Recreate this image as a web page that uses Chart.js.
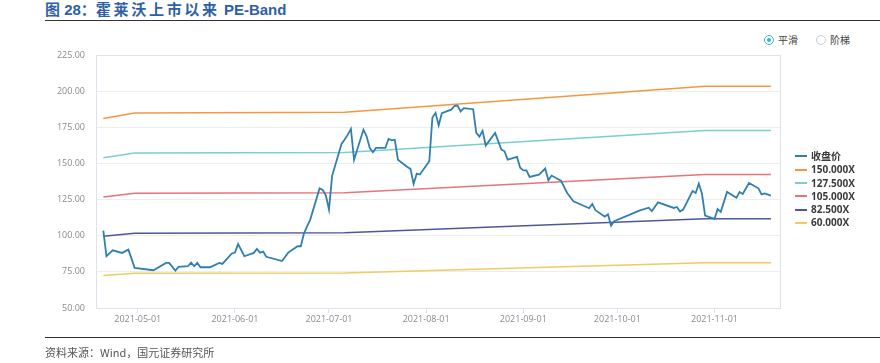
<!DOCTYPE html>
<html>
<head>
<meta charset="utf-8">
<script src="https://cdn.jsdelivr.net/npm/chart.js@4.4.0/dist/chart.umd.min.js"></script>
<style>
body { margin: 0; background: #fff; }
#wrap { position: relative; width: 880px; height: 363px; overflow: hidden; font-family: "Noto Sans CJK SC", sans-serif; }
#title { position: absolute; left: 45px; top: 1px; line-height: 18px; font-size: 15px; font-weight: bold; color: #2f5fa7; font-family: "Liberation Sans", "Noto Sans CJK SC", sans-serif; white-space: nowrap; }
#title .cn { letter-spacing: 2.7px; }
.rule { position: absolute; left: 45px; width: 835px; height: 1px; background: #333; }
#source { position: absolute; left: 45px; top: 344px; font-size: 11px; line-height: 16px; color: #555; white-space: nowrap; }
#mode { position: absolute; top: 32px; left: 764px; font-size: 10px; color: #444; line-height: 14px; white-space: nowrap; }
#mode span { display: inline-block; vertical-align: middle; }
.radio { width: 8px; height: 8px; border-radius: 50%; border: 1px solid #ccc; position: relative; margin-right: 4px; }
.radio.on { border-color: #3ab5c8; }
.radio.on::after { content: ""; position: absolute; left: 2px; top: 2px; width: 4px; height: 4px; border-radius: 50%; background: #3ab5c8; }
#legend { position: absolute; left: 795px; top: 150px; }
#legend div { height: 13.3px; line-height: 13.3px; font-size: 10px; font-weight: bold; color: #3a3a3a; white-space: nowrap; font-family: "Open Sans", "Noto Sans CJK SC", sans-serif; }
#legend i { display: inline-block; width: 12px; height: 2px; vertical-align: middle; margin-right: 4px; margin-top: -2px; }
canvas { position: absolute; left: 0; top: 0; }
</style>
</head>
<body>
<div id="wrap">
  <div id="title">图 28：<span class="cn">霍莱沃上市以来</span> PE-Band</div>
  <div class="rule" style="top:20px"></div>
  <div id="mode"><span class="radio on"></span><span>平滑</span><span style="width:18px"></span><span class="radio"></span><span>阶梯</span></div>
  <canvas id="peChart" width="880" height="363"></canvas>
  <div id="legend"></div>
  <div class="rule" style="top:337px"></div>
  <div id="source">资料来源：Wind，国元证券研究所</div>
</div>
<script>
// close price (trading days)
const closeDates = [
  "2021-04-20","2021-04-21","2021-04-23","2021-04-26","2021-04-28","2021-04-30",
  "2021-05-06","2021-05-10","2021-05-11","2021-05-13","2021-05-14","2021-05-17","2021-05-18","2021-05-19","2021-05-20","2021-05-21","2021-05-24","2021-05-27","2021-05-28","2021-05-31",
  "2021-06-01","2021-06-02","2021-06-04","2021-06-07","2021-06-08","2021-06-09","2021-06-10","2021-06-11","2021-06-16","2021-06-18","2021-06-21","2021-06-22","2021-06-23","2021-06-24","2021-06-25","2021-06-28","2021-06-29","2021-06-30",
  "2021-07-01","2021-07-02","2021-07-05","2021-07-06","2021-07-07","2021-07-08","2021-07-09","2021-07-12","2021-07-13","2021-07-14","2021-07-15","2021-07-16","2021-07-19","2021-07-20","2021-07-21","2021-07-22","2021-07-23","2021-07-26","2021-07-27","2021-07-28","2021-07-29","2021-07-30",
  "2021-08-02","2021-08-03","2021-08-04","2021-08-05","2021-08-06","2021-08-09","2021-08-10","2021-08-11","2021-08-12","2021-08-13","2021-08-16","2021-08-17","2021-08-18","2021-08-19","2021-08-20","2021-08-23","2021-08-25","2021-08-26","2021-08-27","2021-08-30","2021-08-31",
  "2021-09-01","2021-09-02","2021-09-03","2021-09-06","2021-09-08","2021-09-09","2021-09-10","2021-09-13","2021-09-15","2021-09-17","2021-09-22","2021-09-23","2021-09-24","2021-09-27","2021-09-28","2021-09-29","2021-09-30",
  "2021-10-08","2021-10-11","2021-10-12","2021-10-14","2021-10-19","2021-10-20","2021-10-21","2021-10-22","2021-10-25","2021-10-26","2021-10-27","2021-10-28","2021-10-29",
  "2021-11-01","2021-11-02","2021-11-03","2021-11-05","2021-11-08","2021-11-09","2021-11-10","2021-11-12","2021-11-15","2021-11-16","2021-11-17","2021-11-19"
];
const closePrice = [
  103.5,85.8,89.9,88.1,90.4,77.8,
  76.1,81.2,81.2,75.9,78.4,78.9,81.4,78.9,81.2,78.2,78.2,81.2,80.5,87.7,
  88.3,94.2,85.8,88.1,90.9,88.3,89.0,85.4,82.5,88.3,92.7,92.7,101.5,106.5,111.0,132.8,131.6,128.0,
  118.1,141.4,163.5,166.5,169.9,173.9,152.6,173.4,168.8,160.7,157.7,160.7,160.7,166.9,166.0,166.3,152.6,147.5,146.2,135.8,142.9,142.3,
  151.5,181.8,185.0,176.3,184.7,187.2,189.7,190.0,186.0,188.2,187.5,171.1,168.5,172.5,162.4,171.1,159.6,158.4,152.6,154.5,147.0,
  145.2,145.2,140.7,142.3,146.5,138.3,141.6,138.1,129.6,123.8,119.0,122.0,117.7,113.2,114.8,107.0,110.0,
  117.4,119.4,117.0,123.1,119.2,119.9,116.7,118.1,130.9,129.6,136.0,129.0,113.9,
  111.6,118.4,116.5,130.3,126.2,130.2,128.9,136.5,132.8,128.6,129.3,127.7
];

// PE bands (break points)
const bandDates = ["2021-04-20","2021-04-30","2021-07-06","2021-10-29","2021-11-19"];
const band150 = [181.0,184.9,185.4,203.3,203.3];
const band1275 = [153.9,157.2,157.6,172.8,172.8];
const band105 = [126.7,129.4,129.8,142.3,142.3];
const band825 = [99.6,101.7,102.0,111.8,111.8];
const band60 = [72.4,74.0,74.2,81.3,81.3];

const xTickLabels = ["2021-05-01","2021-06-01","2021-07-01","2021-08-01","2021-09-01","2021-10-01","2021-11-01"];
const yMin = 50, yMax = 225, yStep = 25;

const toPts = (dates, vals) => dates.map((d, i) => ({ x: Date.parse(d), y: vals[i] }));

function band(label, vals, color) {
  return {
    label: label,
    data: toPts(bandDates, vals),
    borderColor: color,
    backgroundColor: color,
    borderWidth: 1.5,
    pointRadius: 0,
    tension: 0,
  };
}

const data = {
  datasets: [
    {
      label: "收盘价",
      data: toPts(closeDates, closePrice),
      borderColor: "#2f7fb3",
      backgroundColor: "#2f7fb3",
      borderWidth: 1.8,
      pointRadius: 0,
      tension: 0,
    },
    band("150.000X", band150, "#f7973d"),
    band("127.500X", band1275, "#79cfcc"),
    band("105.000X", band105, "#e8737a"),
    band("82.500X", band825, "#4d5899"),
    band("60.000X", band60, "#efcb62"),
  ],
};

const framePlugin = {
  id: "frame",
  beforeDatasetsDraw(chart) {
    const a = chart.chartArea, c = chart.ctx;
    c.save();
    c.strokeStyle = "#dde3ee";
    c.lineWidth = 1;
    c.strokeRect(a.left + 0.5, a.top + 0.5, a.right - a.left, a.bottom - a.top);
    c.restore();
  },
};

Chart.defaults.font.family = "'Open Sans', 'Noto Sans CJK SC', sans-serif";
Chart.defaults.font.size = 9;
Chart.defaults.color = "#8a8a8a";

let config = {
  type: "line",
  data: data,
  options: {
    responsive: false,
    animation: false,
    layout: { padding: { top: 55, right: 100, bottom: 0, left: 0 } },
    scales: {
      x: {
        type: "linear",
        min: Date.parse("2021-04-17T16:00:00Z"),
        max: Date.parse("2021-11-21T21:30:00Z"),
        afterBuildTicks: (axis) => { axis.ticks = xTickLabels.map(s => ({ value: Date.parse(s) })); },
        afterFit: (axis) => { axis.height = 55; },
        grid: { drawOnChartArea: false, drawTicks: true, tickLength: 5, color: "#dde3ee" },
        border: { display: true, color: "#dde3ee" },
        ticks: {
          padding: 1,
          maxRotation: 0,
          autoSkip: false,
          callback: (v) => new Date(v).toISOString().slice(0, 10),
        },
      },
      y: {
        min: yMin,
        max: yMax,
        afterFit: (axis) => { axis.width = 96; },
        grid: { color: "#ededed", drawTicks: false },
        border: { display: true, color: "#dde3ee" },
        ticks: {
          stepSize: yStep,
          padding: 11,
          callback: (v) => v.toFixed(2),
        },
      },
    },
    plugins: {
      legend: { display: false },
      tooltip: { enabled: false },
    },
  },
  plugins: [framePlugin],
};

const ctx = document.getElementById("peChart").getContext("2d");
let myChart = new Chart(ctx, config);

// legend on the right
const legendBox = document.getElementById("legend");
myChart.data.datasets.forEach(ds => {
  const row = document.createElement("div");
  const sw = document.createElement("i");
  sw.style.background = ds.borderColor;
  row.appendChild(sw);
  row.appendChild(document.createTextNode(ds.label));
  legendBox.appendChild(row);
});
</script>
</body>
</html>
